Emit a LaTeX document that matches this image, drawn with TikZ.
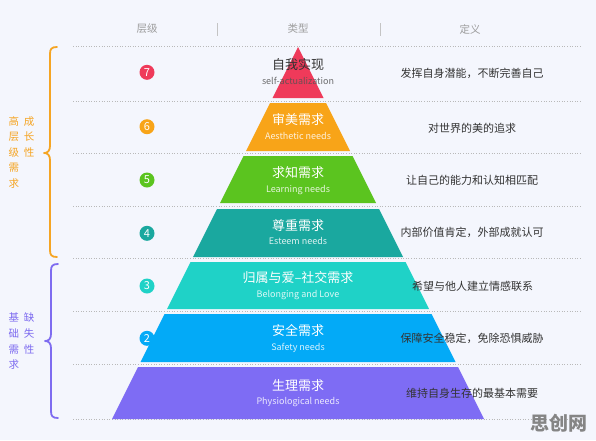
\documentclass[tikz,border=0pt]{standalone}
\usepackage{fontspec}
\setmainfont{Noto Sans CJK SC}
\usetikzlibrary{positioning}
\definecolor{bgLavender}{HTML}{F4F6FD}
\definecolor{lvRed}{HTML}{EF3A5A}
\definecolor{lvOrange}{HTML}{F8A418}
\definecolor{lvGreen}{HTML}{5BC41F}
\definecolor{lvTeal}{HTML}{1AA89F}
\definecolor{lvCyan}{HTML}{1FD2C7}
\definecolor{lvBlue}{HTML}{03AAF7}
\definecolor{lvPurple}{HTML}{7E6CF4}
\definecolor{textDark}{HTML}{333333}
\definecolor{textGray}{HTML}{9C9C9C}
\definecolor{braceOrange}{HTML}{F5A524}
\definecolor{bracePurple}{HTML}{7E6CF0}

\begin{document}
\begin{tikzpicture}[
    x=1pt, y=-1pt,
    title/.style={font=\fontsize{13}{15}\selectfont, text=white, inner sep=0pt, text height=10.8pt, text depth=1.6pt},
    subtitle/.style={font=\fontsize{9}{11}\selectfont, text=white, text opacity=0.85, inner sep=0pt, text height=6.6pt, text depth=1.8pt},
    defn/.style={font=\fontsize{11}{13}\selectfont, text=textDark, inner sep=0pt, text height=9pt, text depth=1.5pt},
    head/.style={font=\fontsize{10.5}{12}\selectfont, text=textGray, inner sep=0pt},
    badge/.style={circle, fill=#1, text=white, minimum size=15pt, inner sep=0pt, font=\fontsize{11}{12}\selectfont},
    sideword/.style={font=\fontsize{10.5}{15.6}\selectfont, text=#1, inner sep=0pt, align=center},
    rowline/.style={draw=gray!55, line width=0.6pt, dash pattern=on 1pt off 1.6pt},
    brace/.style={draw=#1, line width=1.8pt, line cap=round, line join=round}
]
    % Canvas
    \fill[bgLavender] (0,0) rectangle (596,440);
    \useasboundingbox (0,0) rectangle (596,440);

    % Row separators
    \foreach \y in {46,101,153.5,206,258.5,311,364,419}
        \draw[rowline] (73,\y) -- (582,\y);

    % Column headers
    \node[head] (H1) at (147,29) {层级};
    \node[head] (H2) at (298,29) {类型};
    \node[head] (H3) at (470,29) {定义};
    \draw[textGray!60, line width=0.8pt] (217,23) -- (217,36);
    \draw[textGray!60, line width=0.8pt] (380,23) -- (380,36);

    % Level badges
    \node[badge=lvRed] (N7) at (147,72.3) {7};
    \node[badge=lvOrange] (N6) at (147,126.7) {6};
    \node[badge=lvGreen] (N5) at (147,180) {5};
    \node[badge=lvTeal] (N4) at (147,233.3) {4};
    \node[badge=lvCyan] (N3) at (147,286) {3};
    \node[badge=lvBlue] (N2) at (147,338.3) {2};

    % Side braces and groups
    \draw[brace=braceOrange] (57,47) .. controls (51.5,47) and (50,49) .. (50,54) -- (50,146)
        .. controls (50,151) and (47.5,153) .. (44,153) .. controls (47.5,153) and (50,155) .. (50,160)
        -- (50,250) .. controls (50,255) and (51.5,257) .. (57,257);
    \draw[brace=bracePurple] (58,264) .. controls (52.5,264) and (51,266) .. (51,271) -- (51,334)
        .. controls (51,339) and (48.5,341) .. (45,341) .. controls (48.5,341) and (51,343) .. (51,348)
        -- (51,411) .. controls (51,416) and (52.5,418) .. (58,418);
    \node[sideword=braceOrange] (G1a) at (14,152.2) {高\\层\\级\\需\\求};
    \node[sideword=braceOrange] (G1b) at (29,137) {成\\长\\性};
    \node[sideword=bracePurple] (G2a) at (14,341.3) {基\\础\\需\\求};
    \node[sideword=bracePurple] (G2b) at (29,333.5) {缺\\失\\性};

    % Pyramid layers (top to bottom)
    \fill[lvRed] (298,47) -- (323.5,98) -- (272.5,98) -- cycle;
    \fill[lvOrange] (270,103) -- (326,103) -- (350,151) -- (246,151) -- cycle;
    \fill[lvGreen] (243.5,156) -- (352.5,156) -- (376,203) -- (220,203) -- cycle;
    \fill[lvTeal] (217,209) -- (379,209) -- (403,257) -- (193,257) -- cycle;
    \fill[lvCyan] (190.5,262) -- (405.5,262) -- (429,309) -- (167,309) -- cycle;
    \fill[lvBlue] (164.5,314) -- (431.5,314) -- (455.5,362) -- (140.5,362) -- cycle;
    \fill[lvPurple] (138,367) -- (458,367) -- (484,419) -- (112,419) -- cycle;

    % Layer names
    \node[title, text=textDark] (T7) at (298,65) {自我实现};
    \node[subtitle, text=textDark!85, below=17.5pt of T7.center, anchor=center] (E7) {self-actualization};
    \node[title] (T6) at (298,120) {审美需求};
    \node[subtitle, below=17pt of T6.center, anchor=center] (E6) {Aesthetic needs};
    \node[title] (T5) at (298,173) {求知需求};
    \node[subtitle, below=17pt of T5.center, anchor=center] (E5) {Learning needs};
    \node[title] (T4) at (298,226) {尊重需求};
    \node[subtitle, below=16.5pt of T4.center, anchor=center] (E4) {Esteem needs};
    \node[title] (T3) at (298,278) {归属与爱–社交需求};
    \node[subtitle, below=17pt of T3.center, anchor=center] (E3) {Belonging and Love};
    \node[title] (T2) at (298,331) {安全需求};
    \node[subtitle, below=17pt of T2.center, anchor=center] (E2) {Safety needs};
    \node[title] (T1) at (298,386) {生理需求};
    \node[subtitle, below=16.5pt of T1.center, anchor=center] (E1) {Physiological needs};

    % Definitions
    \node[defn] (D7) at (472,73.3) {发挥自身潜能，不断完善自己};
    \node[defn] (D6) at (472,129) {对世界的美的追求};
    \node[defn] (D5) at (472,181) {让自己的能力和认知相匹配};
    \node[defn] (D4) at (472,233) {内部价值肯定，外部成就认可};
    \node[defn] (D3) at (472.5,286.7) {希望与他人建立情感联系};
    \node[defn] (D2) at (472,339) {保障安全稳定，免除恐惧威胁};
    \node[defn] (D1) at (472,394) {维持自身生存的最基本需要};

    % Watermark
    \node[font=\fontsize{19}{21}\selectfont\bfseries, text=textGray!85!black, inner sep=0pt] (W) at (559,423) {思创网};
\end{tikzpicture}
\end{document}
